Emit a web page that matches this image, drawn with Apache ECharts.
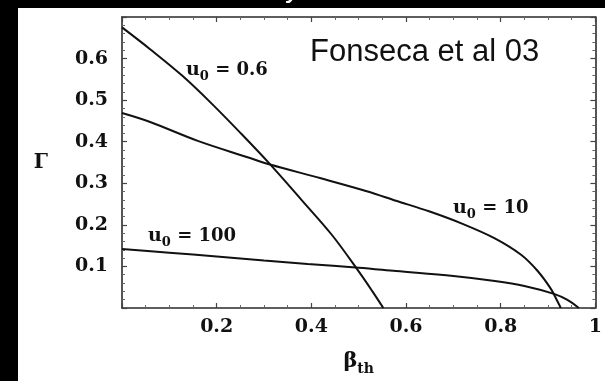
<!DOCTYPE html>
<html>
<head>
<meta charset="utf-8">
<script src="https://cdn.jsdelivr.net/npm/echarts@6/dist/echarts.min.js"></script>
<style>
  html, body { margin: 0; padding: 0; background: #fff; }
  #chart { width: 605px; height: 381px; }
</style>
</head>
<body>
<div id="chart"></div>
<script>
// Tick labels
const xTickValues = [0.2, 0.4, 0.6, 0.8, 1.0];
const xTickLabels = ['0.2', '0.4', '0.6', '0.8', '1'];
const yTickValues = [0.1, 0.2, 0.3, 0.4, 0.5, 0.6];
const yTickLabels = ['0.1', '0.2', '0.3', '0.4', '0.5', '0.6'];

// Γ versus β_th for three values of u0
const betaU06  = [0, 0.06, 0.127, 0.19, 0.252, 0.3125, 0.38, 0.444, 0.50, 0.529, 0.552];
const gammaU06 = [0.675, 0.622, 0.559, 0.491, 0.419, 0.346, 0.259, 0.175, 0.088, 0.04, 0.0];

const betaU10  = [0, 0.058, 0.16, 0.267, 0.3125, 0.42, 0.517, 0.579, 0.65, 0.718, 0.7875, 0.843, 0.878, 0.906, 0.919, 0.927];
const gammaU10 = [0.469, 0.448, 0.402, 0.362, 0.345, 0.312, 0.281, 0.258, 0.232, 0.203, 0.1675, 0.128, 0.089, 0.046, 0.018, 0.0];

const betaU100  = [0, 0.1, 0.2, 0.3, 0.392, 0.5, 0.579, 0.7, 0.7875, 0.85, 0.9125, 0.94, 0.965];
const gammaU100 = [0.142, 0.133, 0.124, 0.114, 0.106, 0.097, 0.089, 0.077, 0.065, 0.053, 0.034, 0.02, 0.0];

const curveNames = ['u0 = 0.6', 'u0 = 10', 'u0 = 100'];

function pairs(xs, ys) { return xs.map((x, i) => [x, ys[i]]); }

function tickFormatter(values, labels) {
  return function (v) {
    const i = values.findIndex(t => Math.abs(t - v) < 1e-9);
    return i < 0 ? '' : labels[i];
  };
}

const serif = 'DejaVu Serif';
const frameColor = '#2a2a2a';

function axisBase(extra) {
  return Object.assign({
    type: 'value',
    axisLine: { show: true, onZero: false, lineStyle: { color: frameColor, width: 1.6 } },
    axisTick: { show: true, inside: true, length: 5, lineStyle: { color: '#444', width: 1.2 } },
    minorTick: { show: true, length: 3, lineStyle: { color: '#666', width: 1 } },
    splitLine: { show: false },
    minorSplitLine: { show: false }
  }, extra);
}

function lineSeries(name, data) {
  return {
    name: name,
    type: 'line',
    xAxisIndex: 0,
    yAxisIndex: 0,
    data: data,
    smooth: 0.35,
    showSymbol: false,
    symbol: 'none',
    lineStyle: { color: '#111', width: 2 },
    silent: true,
    animation: false
  };
}

const labelRich = {
  u: { fontFamily: serif, fontWeight: 'bold', fontSize: 19, lineHeight: 26, verticalAlign: 'middle', fill: '#111' },
  s: { fontFamily: serif, fontWeight: 'bold', fontSize: 13, lineHeight: 13, verticalAlign: 'bottom', fill: '#111' },
  v: { fontFamily: serif, fontWeight: 'bold', fontSize: 18, lineHeight: 26, verticalAlign: 'middle', fill: '#111' }
};

function curveLabel(left, cy, value) {
  return {
    type: 'text',
    left: left,
    top: cy - 13,
    silent: true,
    z: 10,
    style: {
      text: '{u|u}{s|0}{v| = ' + value + '}',
      rich: labelRich
    }
  };
}

const chart = echarts.init(document.getElementById('chart'), null, { renderer: 'canvas' });

chart.setOption({
  animation: false,
  backgroundColor: '#ffffff',
  grid: { left: 122, right: 3, top: 17, bottom: 67, containLabel: false },
  xAxis: [
    axisBase({
      position: 'bottom',
      min: 0, max: 1, interval: 0.2,
      minorTick: { show: true, splitNumber: 4, length: 3, lineStyle: { color: '#666', width: 1 } },
      axisLabel: {
        show: true, margin: 10,
        fontFamily: serif, fontWeight: 'bold', fontSize: 19, color: '#111',
        showMinLabel: false, showMaxLabel: true,
        formatter: tickFormatter(xTickValues, xTickLabels)
      },
      name: '{b|β}{t|th}',
      nameLocation: 'middle',
      nameGap: 40,
      nameTextStyle: {
        rich: {
          b: { fontFamily: serif, fontWeight: 'bold', fontSize: 21, color: '#111', lineHeight: 28, verticalAlign: 'middle' },
          t: { fontFamily: serif, fontWeight: 'bold', fontSize: 14, color: '#111', lineHeight: 14, verticalAlign: 'bottom' }
        }
      }
    }),
    axisBase({
      position: 'top',
      min: 0, max: 1, interval: 0.2,
      minorTick: { show: true, splitNumber: 4, length: 3, lineStyle: { color: '#666', width: 1 } },
      axisLabel: { show: false }
    })
  ],
  yAxis: [
    axisBase({
      position: 'left',
      min: 0, max: 0.7, interval: 0.1,
      minorTick: { show: true, splitNumber: 5, length: 3, lineStyle: { color: '#666', width: 1 } },
      axisLabel: {
        show: true, margin: 14,
        fontFamily: serif, fontWeight: 'bold', fontSize: 19, color: '#111',
        showMinLabel: false, showMaxLabel: false,
        formatter: tickFormatter(yTickValues, yTickLabels)
      },
      name: 'Γ',
      nameLocation: 'middle',
      nameRotate: 0,
      nameGap: 74,
      nameTextStyle: { fontFamily: serif, fontWeight: 'bold', fontSize: 20, color: '#111' }
    }),
    axisBase({
      position: 'right',
      min: 0, max: 0.7, interval: 0.1,
      minorTick: { show: true, splitNumber: 5, length: 3, lineStyle: { color: '#666', width: 1 } },
      axisLabel: { show: false }
    })
  ],
  series: [
    lineSeries(curveNames[0], pairs(betaU06, gammaU06)),
    lineSeries(curveNames[1], pairs(betaU10, gammaU10)),
    lineSeries(curveNames[2], pairs(betaU100, gammaU100))
  ],
  graphic: [
    // dark margins along the top and left edges
    { type: 'rect', left: 0, top: 0, shape: { width: 605, height: 8 }, style: { fill: '#000' }, z: 20, silent: true },
    { type: 'rect', left: 0, top: 0, shape: { width: 18, height: 381 }, style: { fill: '#000' }, z: 20, silent: true },
    // tail of the heading text above the figure
    { type: 'text', left: 285, top: -26, z: 21, silent: true,
      style: { text: 'y', fill: '#fff', font: '30px "Liberation Sans"' } },
    // source note
    { type: 'text', left: 310, top: 37, z: 10, silent: true,
      style: { text: 'Fonseca et al 03', fill: '#111', font: '31px "Liberation Sans"' } },
    curveLabel(186, 74, '0.6'),
    curveLabel(453, 212, '10'),
    curveLabel(148, 240, '100')
  ]
});
</script>
</body>
</html>
